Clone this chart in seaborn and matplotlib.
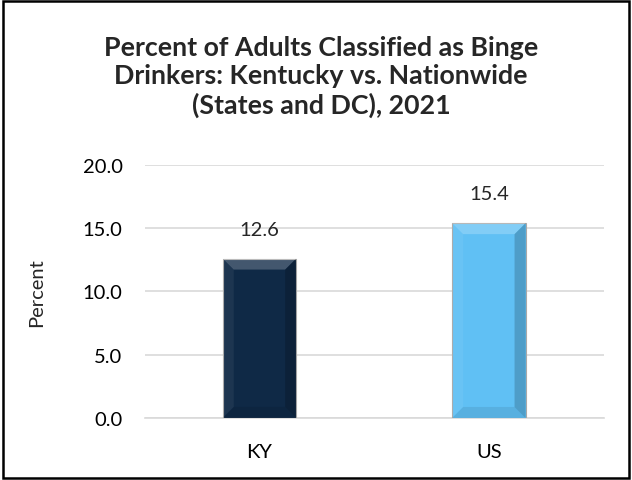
import matplotlib
matplotlib.use("Agg")
import matplotlib.pyplot as plt
import seaborn as sns
import pandas as pd
from matplotlib.patches import Polygon, Rectangle

# Datos
regiones = ["KY", "US"]
porcentajes = [12.6, 15.4]
colores = ["#0f2946", "#60c0f4"]
ticks_y = [0.0, 5.0, 10.0, 15.0, 20.0]

df = pd.DataFrame({"region": regiones, "pct": porcentajes})

sns.set_theme(style="white")
plt.rcParams["font.family"] = ["Lato", "DejaVu Sans"]

fig = plt.figure(figsize=(6.32, 4.81), dpi=100)
ax = fig.add_axes([0.229, 0.129, 0.726, 0.526])

sns.barplot(data=df, x="region", y="pct", hue="region", palette=colores,
            width=0.32, legend=False, ax=ax, edgecolor="#a8a8a8", linewidth=0.8,
            saturation=1, zorder=3)

ax.set_ylim(0, 20)
ax.set_yticks(ticks_y)
ax.set_yticklabels([f"{t:.1f}" for t in ticks_y])
ax.yaxis.grid(True, color="#d9d9d9", linewidth=1.2, zorder=0)
ax.set_axisbelow(True)
for s in ["top", "right", "left"]:
    ax.spines[s].set_visible(False)
ax.spines["bottom"].set_color("#d9d9d9")
ax.spines["bottom"].set_linewidth(1.2)
ax.tick_params(axis="both", length=0, labelsize=14.5, colors="black")
ax.tick_params(axis="x", pad=18)
ax.tick_params(axis="y", pad=16)
ax.set_xlabel("")
ax.set_ylabel("Percent", fontsize=14.5, labelpad=27)

# efecto bisel sobre cada barra (en pixeles)
fig.canvas.draw()
trans = ax.transData
inv = trans.inverted()
for bar in ax.patches:
    x0, y0 = bar.get_x(), bar.get_y()
    x1, y1 = x0 + bar.get_width(), y0 + bar.get_height()
    (px0, py0), (px1, py1) = trans.transform([(x0, y0), (x1, y1)])
    b = 11
    top = inv.transform([(px0, py1), (px1, py1), (px1 - b, py1 - b), (px0 + b, py1 - b)])
    right = inv.transform([(px1, py1), (px1, py0), (px1 - b, py0 + b), (px1 - b, py1 - b)])
    left = inv.transform([(px0, py1), (px0, py0), (px0 + b, py0 + b), (px0 + b, py1 - b)])
    bottom = inv.transform([(px0, py0), (px1, py0), (px1 - b, py0 + b), (px0 + b, py0 + b)])
    ax.add_patch(Polygon(top, closed=True, facecolor="white", edgecolor="none", alpha=0.22, zorder=4))
    ax.add_patch(Polygon(right, closed=True, facecolor="black", edgecolor="none", alpha=0.18, zorder=4))
    ax.add_patch(Polygon(left, closed=True, facecolor="white", edgecolor="none", alpha=0.06, zorder=4))
    ax.add_patch(Polygon(bottom, closed=True, facecolor="black", edgecolor="none", alpha=0.08, zorder=4))

for i, v in enumerate(porcentajes):
    ax.annotate(f"{v:.1f}", (i, v), xytext=(0, 15), textcoords="offset points",
                ha="center", va="bottom", fontsize=14.5)

fig.text(0.508, 0.84, "Percent of Adults Classified as Binge\nDrinkers: Kentucky vs. Nationwide\n(States and DC), 2021",
         ha="center", va="center", fontsize=19.3, fontweight="bold", linespacing=1.2)

fig.patches.append(Rectangle((0.005, 0.005), 0.99, 0.99, transform=fig.transFigure,
                             fill=False, edgecolor="black", linewidth=1.8))

fig.savefig("out.png", dpi=100)
